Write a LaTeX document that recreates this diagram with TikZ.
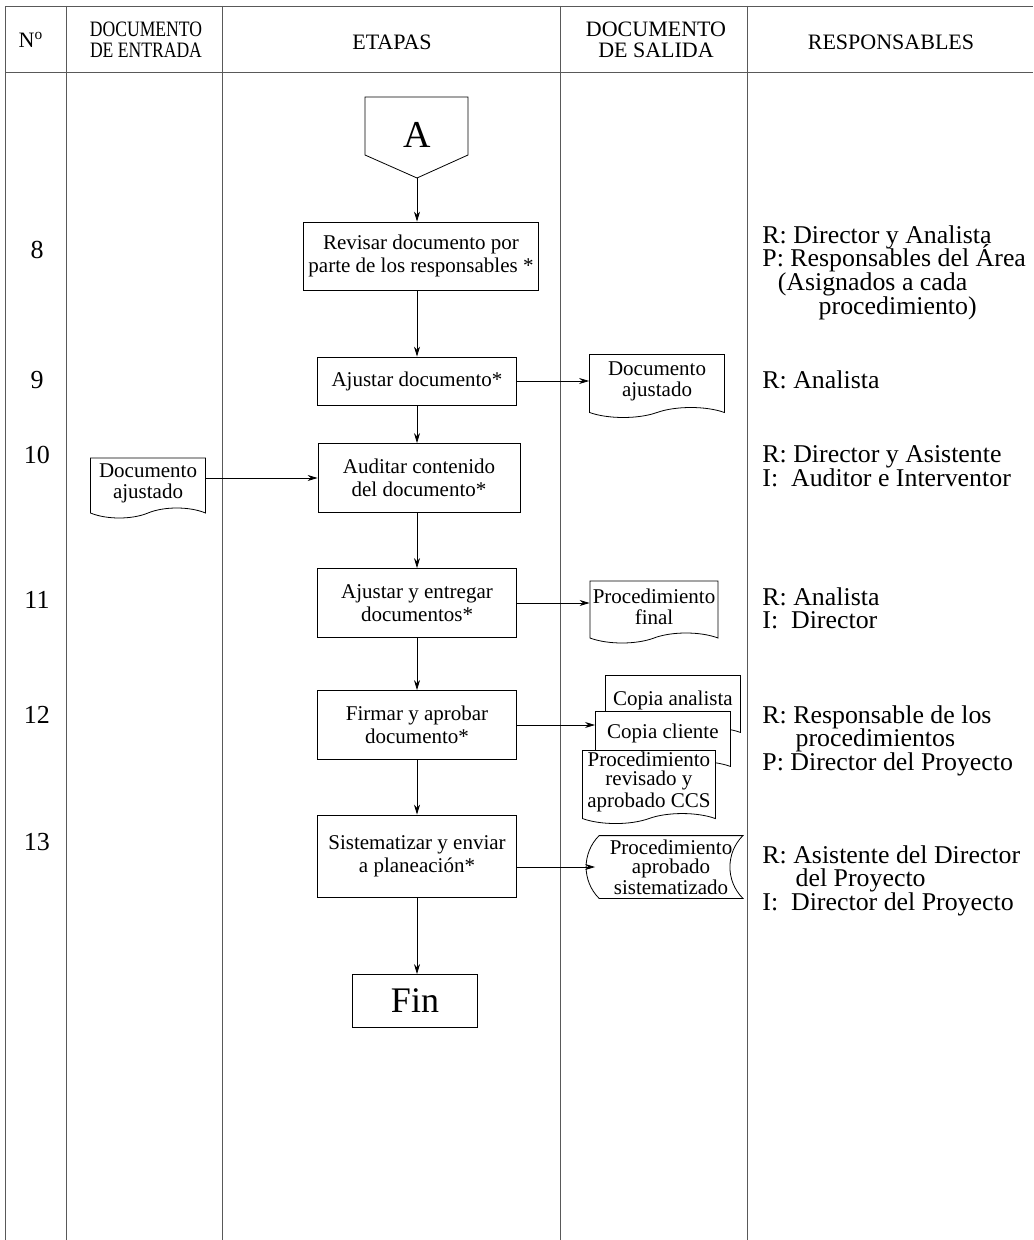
\documentclass[tikz,border=0pt]{standalone}
\usepackage{fontspec}
\setmainfont{Liberation Serif}
\newfontfamily\respfont{Liberation Serif}[FakeStretch=1.01]
\newcommand\apretado{\lineskiplimit-6pt\relax}
\usepackage{graphicx}
\usepackage{tikz}
\usetikzlibrary{positioning, shapes.symbols, arrows.meta}

\tikzset{
    etapa/.style={draw, rectangle, align=center, font=\fontsize{10.5}{11.5}\selectfont, minimum width=99.5pt, minimum height=34.5pt, inner sep=1pt},
    doc/.style={draw, fill=white, tape, tape bend top=none, tape bend bottom=in and out, tape bend height=5pt, align=center, font=\fontsize{10.5}{10.5}\selectfont, inner sep=1pt},
    resp/.style={anchor=west, align=left, font=\respfont\fontsize{12.8}{11.9}\selectfont\apretado, inner sep=0pt},
    titulo/.style={align=center, font=\fontsize{11}{10.5}\selectfont, inner sep=0pt},
    num/.style={font=\fontsize{13}{13}\selectfont},
    flecha/.style={-{Stealth[length=5pt, width=3pt]}, thin},
}

\begin{document}
\begin{tikzpicture}[x=0.5pt, y=-0.5pt]
        \useasboundingbox (0,0) rectangle (1033,1240);

        % tabla
        \draw[gray!70!black] (5,1240) -- (5,6) -- (1033,6);
        \draw[gray!70!black] (5,72) -- (1033,72);
        \foreach \x in {66,222,560,747}
            \draw[gray!70!black] (\x,6) -- (\x,1240);

        \node[titulo] (hnum) at (31,40) {N\textsuperscript{o}};
        \node[titulo] (hent) at (146,40) {\scalebox{0.8}[1]{DOCUMENTO}\\\scalebox{0.8}[1]{DE ENTRADA}};
        \node[titulo] (heta) at (392,42) {ETAPAS};
        \node[titulo] (hsal) at (656,40) {DOCUMENTO\\DE SALIDA};
        \node[titulo] (hres) at (891,42) {RESPONSABLES};

        % numeros
        \node[num] (n8)  at (37,250) {8};
        \node[num] (n9)  at (37,380) {9};
        \node[num] (n10) at (37,455) {10};
        \node[num] (n11) at (37,600) {11};
        \node[num] (n12) at (37,715) {12};
        \node[num] (n13) at (37,842) {13};

        % conector A
        \draw (365,97) -- (468,97) -- (468,155) -- (417,178) -- (365,155) -- cycle;
        \node[font=\fontsize{19}{19}\selectfont] (A) at (417,135) {A};
        \coordinate (Apunta) at (417,178);

        \node[etapa, minimum width=117.5pt, minimum height=34pt] (e8) at (421,256) {Revisar documento por\\parte de los responsables *};
        \node[etapa, minimum height=24pt] (e9) at (417,381) {Ajustar documento*};
        \node[etapa, minimum width=101pt] (e10) at (419,478) {Auditar contenido\\del documento*};
        \node[etapa] (e11) at (417,603) {Ajustar y entregar\\documentos*};
        \node[etapa] (e12) at (417,725) {Firmar y aprobar\\documento*};
        \node[etapa, minimum height=41pt] (e13) at (417,856) {Sistematizar y enviar\\a planeaci\'on*};
        \node[etapa, minimum width=62.5pt, minimum height=26.5pt, font=\fontsize{18}{18}\selectfont] (fin) at (415,1001) {Fin};

        % documentos
        \node[doc, minimum width=67.5pt, minimum height=31.5pt] (s9) at (657,381) {Documento\\ajustado};
        \node[doc, minimum width=57.5pt, minimum height=30pt] (d10) at (148,483) {Documento\\ajustado};
        \node[doc, minimum width=64pt, minimum height=31pt] (s11) at (654,607) {Procedimiento\\final};
        \node[doc, minimum width=67.5pt, minimum height=31pt, anchor=north west] (s12a) at (605,675) {\raisebox{3pt}{Copia analista}};
        \node[doc, minimum width=67.5pt, minimum height=30pt, anchor=north west] (s12b) at (595,711) {\raisebox{5pt}{Copia cliente}};
        \node[doc, minimum width=66.5pt, minimum height=32.5pt, anchor=north west, font=\fontsize{10.5}{9.5}\selectfont] (s12c) at (582,750) {Procedimiento\\revisado y\\aprobado CCS};
        \node[align=center, font=\fontsize{10.5}{9.5}\selectfont, minimum width=71.5pt, minimum height=31pt, inner sep=0pt] (s13) at (671,867) {Procedimiento\\aprobado\\sistematizado};
        \draw (s13.north west) -- (s13.north east) to[bend right=45] (s13.south east) -- (s13.south west) to[bend left=45] (s13.north west);

        % flujo
        \draw[flecha] (Apunta) -- (Apunta |- e8.north);
        \draw[flecha] (e8.south -| e9) -- (e9);
        \draw[flecha] (e9) -- (e9 |- e10.north);
        \draw[flecha] (e10.south -| e9) -- (e11);
        \draw[flecha] (e11) -- (e12);
        \draw[flecha] (e12) -- (e13);
        \draw[flecha] (e13) -- (e13 |- fin.north);

        \draw[flecha] (e9.east) -- (e9.east -| s9.west);
        \draw[flecha] (e10.west -| d10.east) -- (e10.west);
        \draw[flecha] (e11.east) -- (e11.east -| s11.west);
        \draw[flecha] (e12.east) -- (e12.east -| s12b.west);
        \draw[flecha] (e13.east |- s13) -- ([xshift=-2pt]s13.west);

        % responsables
        \node[resp, anchor=north west] (r8) at (762,225) {R: Director y Analista\\P: Responsables del \'Area\\\hspace*{0.6em}(Asignados a cada\\\hspace*{2.2em}procedimiento)};
        \node[resp] (r9) at (762,380) {R: Analista};
        \node[resp, anchor=north west] (r10) at (762,445) {R: Director y Asistente\\I:\ \ Auditor e Interventor};
        \node[resp, anchor=north west] (r11) at (762,587) {R: Analista\\I:\ \ Director};
        \node[resp, anchor=north west] (r12) at (762,705) {R: Responsable de los\\\hspace*{1.3em}procedimientos\\P: Director del Proyecto};
        \node[resp, anchor=north west] (r13) at (762,845) {R: Asistente del Director\\\hspace*{1.3em}del Proyecto\\I:\ \ Director del Proyecto};
\end{tikzpicture}
\end{document}
